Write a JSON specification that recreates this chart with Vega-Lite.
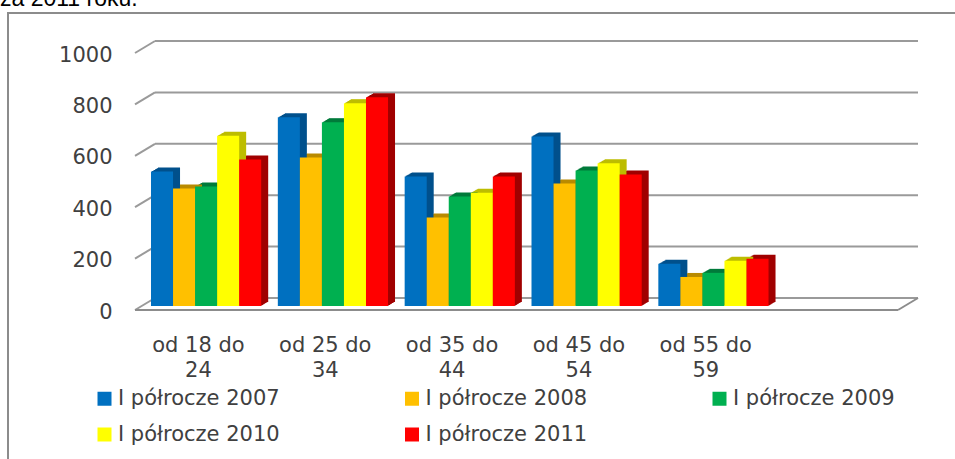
{
"$schema":"https://vega.github.io/schema/vega-lite/v6.json",
"width":960,"height":450,
"autosize":"none",
"padding":{"left":8,"top":13,"right":0,"bottom":0},
"background":"white",
"view":{"stroke":"#8c8c8c","strokeWidth":2,"fill":"white"},
"title":{"text":"za 2011 roku.","anchor":"start","frame":"group","dx":-8,"offset":2,"font":"Liberation Sans","fontSize":23,"fontWeight":"normal","color":"#000000"},
"datasets":{
"bars":[
{"Wiek":"od 18 do 24","Okres":"I półrocze 2007","Liczba":523},
{"Wiek":"od 18 do 24","Okres":"I półrocze 2008","Liczba":457},
{"Wiek":"od 18 do 24","Okres":"I półrocze 2009","Liczba":465},
{"Wiek":"od 18 do 24","Okres":"I półrocze 2010","Liczba":662},
{"Wiek":"od 18 do 24","Okres":"I półrocze 2011","Liczba":570},
{"Wiek":"od 25 do 34","Okres":"I półrocze 2007","Liczba":734},
{"Wiek":"od 25 do 34","Okres":"I półrocze 2008","Liczba":578},
{"Wiek":"od 25 do 34","Okres":"I półrocze 2009","Liczba":715},
{"Wiek":"od 25 do 34","Okres":"I półrocze 2010","Liczba":789},
{"Wiek":"od 25 do 34","Okres":"I półrocze 2011","Liczba":812},
{"Wiek":"od 35 do 44","Okres":"I półrocze 2007","Liczba":504},
{"Wiek":"od 35 do 44","Okres":"I półrocze 2008","Liczba":344},
{"Wiek":"od 35 do 44","Okres":"I półrocze 2009","Liczba":426},
{"Wiek":"od 35 do 44","Okres":"I półrocze 2010","Liczba":441},
{"Wiek":"od 35 do 44","Okres":"I półrocze 2011","Liczba":504},
{"Wiek":"od 45 do 54","Okres":"I półrocze 2007","Liczba":660},
{"Wiek":"od 45 do 54","Okres":"I półrocze 2008","Liczba":477},
{"Wiek":"od 45 do 54","Okres":"I półrocze 2009","Liczba":527},
{"Wiek":"od 45 do 54","Okres":"I półrocze 2010","Liczba":555},
{"Wiek":"od 45 do 54","Okres":"I półrocze 2011","Liczba":512},
{"Wiek":"od 55 do 59","Okres":"I półrocze 2007","Liczba":164},
{"Wiek":"od 55 do 59","Okres":"I półrocze 2008","Liczba":113},
{"Wiek":"od 55 do 59","Okres":"I półrocze 2009","Liczba":129},
{"Wiek":"od 55 do 59","Okres":"I półrocze 2010","Liczba":176},
{"Wiek":"od 55 do 59","Okres":"I półrocze 2011","Liczba":184}
],
"ticks":[{"t":0,"od":"od 18 do 24","do":" "},{"t":200,"od":"od 18 do 24","do":" "},{"t":400,"od":"od 18 do 24","do":" "},{"t":600,"od":"od 18 do 24","do":" "},{"t":800,"od":"od 18 do 24","do":" "},{"t":1000,"od":"od 18 do 24","do":" "}],
"floor":[{"t":0,"od":"od 18 do 24","do":" "}]
},
"data":{"name":"bars"},
"resolve":{"scale":{"xOffset":"independent"}},
"encoding":{
"x":{"field":"Wiek","type":"nominal","title":null,
"scale":{"domain":["od 18 do 24","od 25 do 34","od 35 do 44","od 45 do 54","od 55 do 59"," "],"range":[127,888],"paddingInner":0.134,"paddingOuter":0.067},
"axis":{"orient":"bottom","offset":-143,"domain":false,"ticks":false,"labelAngle":0,"labelPadding":14,"labelFont":"DejaVu Sans","labelFontSize":21,"labelColor":"#404040","labelLineHeight":25,"labelLimit":200,
"labelExpr":"[slice(datum.label,0,8),slice(datum.label,9)]"}},
"y":{"field":"Liczba","type":"quantitative","title":null,
"scale":{"domain":[0,1000],"range":[297,40],"nice":false},
"axis":{"orient":"left","offset":-119,"domain":false,"ticks":false,"grid":false,"values":[0,200,400,600,800,1000],"format":"d","labelPadding":15,"labelOffset":2,"labelFont":"DejaVu Sans","labelFontSize":21,"labelColor":"#404040"}}
},
"layer":[
{"data":{"name":"ticks"},"mark":{"type":"rule","color":"#9a9a9a","strokeWidth":2,"xOffset":11.5,"x2Offset":30.5,"yOffset":-12,"y2Offset":-12},
"encoding":{"x":{"field":"od","bandPosition":0},"x2":{"field":"do","bandPosition":1},"y":{"field":"t"}}},
{"data":{"name":"ticks"},"mark":{"type":"rule","color":"#9a9a9a","strokeWidth":2,"xOffset":-8.5,"x2Offset":11.5,"y2Offset":-12},
"encoding":{"x":{"field":"od","bandPosition":0},"x2":{"field":"od","bandPosition":0},"y":{"field":"t"},"y2":{"field":"t"}}},
{"data":{"name":"floor"},"mark":{"type":"rule","color":"#8c8c8c","strokeWidth":2,"xOffset":-8.5,"x2Offset":10.5},
"encoding":{"x":{"field":"od","bandPosition":0},"x2":{"field":"do","bandPosition":1},"y":{"field":"t"}}},
{"data":{"name":"floor"},"mark":{"type":"rule","color":"#8c8c8c","strokeWidth":2,"xOffset":10.5,"x2Offset":30.5,"y2Offset":-12},
"encoding":{"x":{"field":"do","bandPosition":1},"x2":{"field":"do","bandPosition":1},"y":{"field":"t"},"y2":{"field":"t"}}},
{"mark":{"type":"bar","yOffset":-4.6,"y2Offset":-4.6},"encoding":{"xOffset":{"field":"Okres","type":"nominal","scale":{"range":[8.5,118.7],"paddingInner":0,"paddingOuter":0}},"fill":{"field":"Okres","type":"nominal","legend":null,"scale":{"range":["#00508c","#b98a00","#007a3a","#bdbd00","#a00000"]}}}},
{"mark":{"type":"bar","yOffset":-5.1,"y2Offset":-5.1},"encoding":{"xOffset":{"field":"Okres","type":"nominal","scale":{"range":[9.5,119.7],"paddingInner":0,"paddingOuter":0}},"fill":{"field":"Okres","type":"nominal","legend":null}}},
{"mark":{"type":"bar","yOffset":-5.7,"y2Offset":-5.7},"encoding":{"xOffset":{"field":"Okres","type":"nominal","scale":{"range":[10.5,120.7],"paddingInner":0,"paddingOuter":0}},"fill":{"field":"Okres","type":"nominal","legend":null}}},
{"mark":{"type":"bar","yOffset":-6.3,"y2Offset":-6.3},"encoding":{"xOffset":{"field":"Okres","type":"nominal","scale":{"range":[11.5,121.7],"paddingInner":0,"paddingOuter":0}},"fill":{"field":"Okres","type":"nominal","legend":null}}},
{"mark":{"type":"bar","yOffset":-6.9,"y2Offset":-6.9},"encoding":{"xOffset":{"field":"Okres","type":"nominal","scale":{"range":[12.5,122.7],"paddingInner":0,"paddingOuter":0}},"fill":{"field":"Okres","type":"nominal","legend":null}}},
{"mark":{"type":"bar","yOffset":-7.4,"y2Offset":-7.4},"encoding":{"xOffset":{"field":"Okres","type":"nominal","scale":{"range":[13.5,123.7],"paddingInner":0,"paddingOuter":0}},"fill":{"field":"Okres","type":"nominal","legend":null}}},
{"mark":{"type":"bar","yOffset":-8,"y2Offset":-8},"encoding":{"xOffset":{"field":"Okres","type":"nominal","scale":{"range":[14.5,124.7],"paddingInner":0,"paddingOuter":0}},"fill":{"field":"Okres","type":"nominal","legend":null}}},
{"mark":{"type":"bar","yOffset":-4,"y2Offset":-4},
"encoding":{"xOffset":{"field":"Okres","type":"nominal","scale":{"range":[7.5,117.7],"paddingInner":0,"paddingOuter":0}},"color":{"field":"Okres","type":"nominal","scale":{"range":["#0070c0","#ffc000","#00b050","#ffff00","#ff0000"]},
"legend":{"title":null,"orient":"none","legendX":86,"legendY":375,"columns":3,"direction":"horizontal","symbolType":"square","symbolSize":196,"symbolStrokeWidth":0,"labelOffset":3,"labelFont":"DejaVu Sans","labelFontSize":21,"labelColor":"#404040","labelLimit":220,"columnPadding":121.5,"rowPadding":14}}}}
]
}
